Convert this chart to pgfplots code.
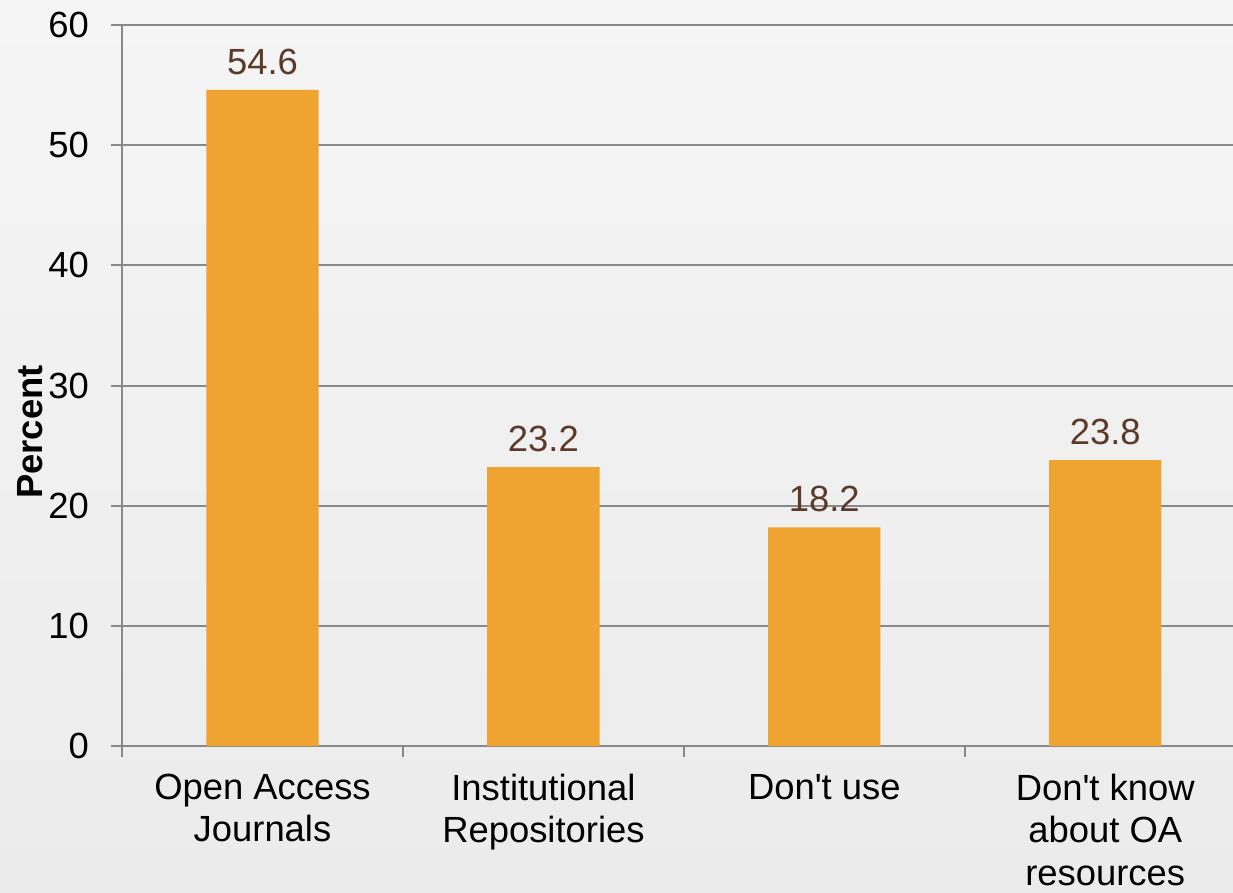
\documentclass[border=0pt]{standalone}
\usepackage{pgfplots}
\pgfplotsset{compat=1.18}
\usepackage{fontspec}
\setmainfont{Liberation Sans}
\definecolor{barorange}{RGB}{239,163,48}
\definecolor{lblbrown}{RGB}{91,58,41}
\definecolor{axisgray}{RGB}{137,137,137}
\definecolor{bgtop}{RGB}{245,245,245}
\definecolor{bgbot}{RGB}{235,235,235}
\newcommand{\chartfont}{\fontsize{18.2bp}{21.2bp}\selectfont}
\begin{document}
\begin{tikzpicture}
\useasboundingbox (-61bp,-73.5bp) rectangle (555.5bp,373bp);
\shade[top color=bgtop, bottom color=bgbot] (-61bp,-73.5bp) rectangle (555.5bp,373bp);
\begin{axis}[
  at={(0,0)}, anchor=south west,
  scale only axis, width=555.5bp, height=360.5bp,
  xmin=-0.5, xmax=3.455, ymin=0, ymax=60,
  ytick={0,10,...,60},
  xtick={-0.5,0.5,1.5,2.5},
  xticklabels={{Open Access\\Journals},{Institutional\\Repositories},{Don\textquotesingle t use},{Don\textquotesingle t know\\about OA\\resources}},
  x tick label style={align=center, xshift=70.25bp, yshift=-5bp, anchor=north, font=\chartfont},
  y tick label style={font=\chartfont, xshift=-7.5bp},
  /pgf/number format/assume math mode=true,
  axis x line*=bottom, axis y line*=left,
  axis line style={draw=axisgray, line width=1bp},
  tick style={draw=axisgray, line width=1bp},
  tick align=outside, major tick length=5.5bp,
  ymajorgrids, grid style={draw=axisgray, line width=1bp},
  ylabel={Percent},
  every axis y label/.style={at={([xshift=-46bp]rel axis cs:0,0.4355)}, rotate=90, anchor=center, font=\bfseries\chartfont},
]
\addplot[ybar, bar width=0.4, fill=barorange, draw=none,
  point meta=explicit,
  nodes near coords,
  every node near coord/.append style={text=lblbrown, yshift=4bp, font=\chartfont}]
  coordinates {(0,54.6) [54.6] (1,23.2) [23.2] (2,18.2) [18.2] (3,23.8) [23.8]};
\end{axis}
\end{tikzpicture}
\end{document}
